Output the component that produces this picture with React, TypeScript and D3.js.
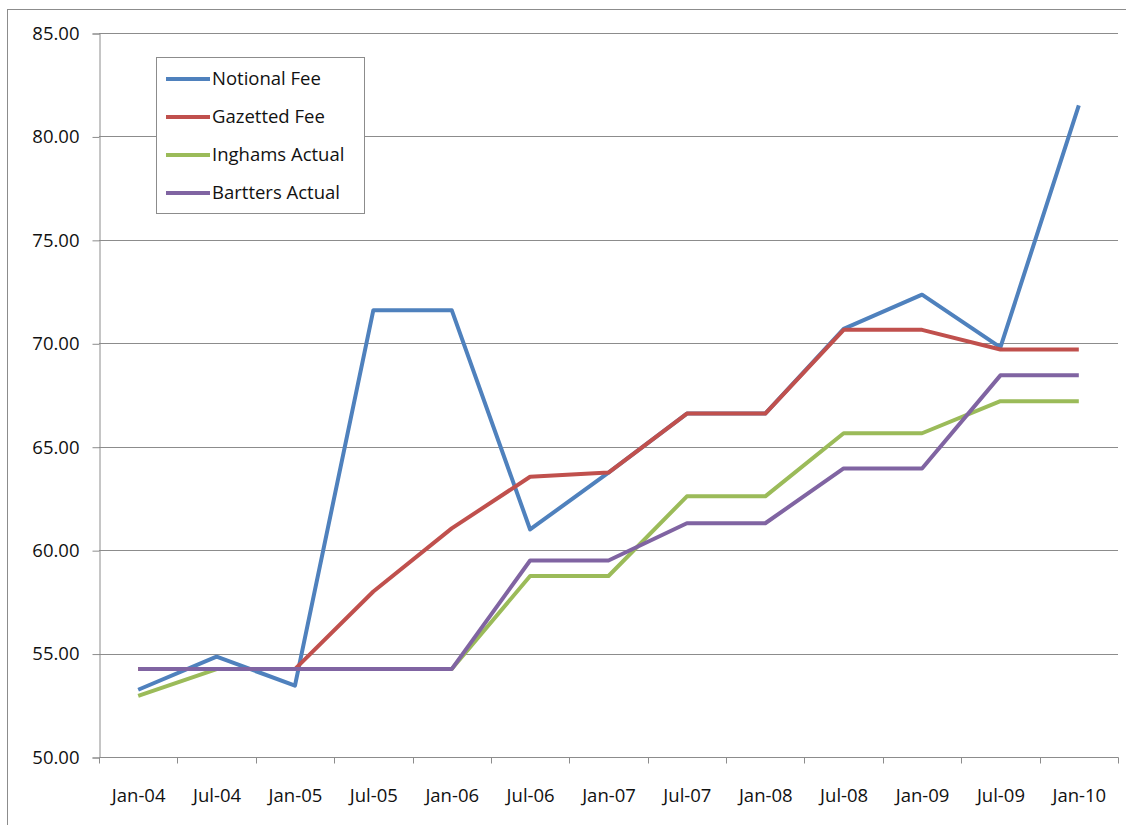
import React, { useEffect, useRef } from 'react';
import * as d3 from 'd3';

const categories = ['Jan-04', 'Jul-04', 'Jan-05', 'Jul-05', 'Jan-06', 'Jul-06', 'Jan-07', 'Jul-07', 'Jan-08', 'Jul-08', 'Jan-09', 'Jul-09', 'Jan-10'];

const notionalFee = [53.25, 54.85, 53.45, 71.6, 71.6, 61.0, 63.75, 66.6, 66.6, 70.7, 72.35, 69.8, 81.5];
const gazettedFee = [54.25, 54.25, 54.25, 58.0, 61.05, 63.55, 63.75, 66.6, 66.6, 70.65, 70.65, 69.7, 69.7];
const inghamsActual = [52.95, 54.25, 54.25, 54.25, 54.25, 58.75, 58.75, 62.6, 62.6, 65.65, 65.65, 67.2, 67.2];
const barttersActual = [54.25, 54.25, 54.25, 54.25, 54.25, 59.5, 59.5, 61.3, 61.3, 63.95, 63.95, 68.45, 68.45];

const yTicks = [50, 55, 60, 65, 70, 75, 80, 85];

const series = [
  { name: 'Notional Fee', values: notionalFee, color: '#4F81BD' },
  { name: 'Gazetted Fee', values: gazettedFee, color: '#C0504D' },
  { name: 'Inghams Actual', values: inghamsActual, color: '#9BBB59' },
  { name: 'Bartters Actual', values: barttersActual, color: '#8064A2' }
];

const FONT = '"Open Sans", sans-serif';
const FONT_SIZE = 18.5;

const App: React.FC = () => {
  const svgRef = useRef<SVGSVGElement>(null);

  useEffect(() => {
    if (!svgRef.current) return;

    const width = 1126;
    const height = 825;
    const left = 99;
    const right = 1118;
    const top = 33;
    const bottom = 757;

    d3.select(svgRef.current).selectAll('*').remove();
    const svg = d3.select(svgRef.current)
      .attr('width', width)
      .attr('height', height);

    svg.append('rect')
      .attr('width', width)
      .attr('height', height)
      .attr('fill', '#fff');

    // outer chart border
    svg.append('rect')
      .attr('x', 7.5)
      .attr('y', 9.5)
      .attr('width', width)
      .attr('height', height)
      .attr('fill', 'none')
      .attr('stroke', '#8c8c8c');

    const x = d3.scaleBand()
      .domain(categories)
      .range([left, right]);

    const y = d3.scaleLinear()
      .domain([50, 85])
      .range([bottom, top]);

    // gridlines
    svg.append('g')
      .selectAll('line')
      .data(yTicks.filter(t => t !== 50))
      .enter()
      .append('line')
      .attr('x1', left)
      .attr('x2', right)
      .attr('y1', d => Math.round(y(d)) + 0.5)
      .attr('y2', d => Math.round(y(d)) + 0.5)
      .attr('stroke', '#8c8c8c');

    // y axis
    const yAxis = svg.append('g')
      .attr('transform', `translate(${left + 0.5},0.5)`)
      .call(d3.axisLeft(y).tickValues(yTicks).tickFormat(d3.format('.2f')).tickSize(7).tickPadding(13));
    yAxis.select('.domain').attr('stroke', '#8c8c8c');
    yAxis.selectAll('.tick line').attr('stroke', '#8c8c8c');
    yAxis.selectAll('text')
      .attr('font-family', FONT)
      .attr('font-size', FONT_SIZE)
      .attr('fill', '#111');

    // x axis, ticks between categories
    const xAxis = svg.append('g')
      .attr('transform', `translate(0.5,${bottom + 0.5})`);
    xAxis.append('line')
      .attr('x1', left)
      .attr('x2', right)
      .attr('stroke', '#8c8c8c');
    xAxis.selectAll('line.tk')
      .data(d3.range(categories.length + 1))
      .enter()
      .append('line')
      .attr('class', 'tk')
      .attr('x1', i => Math.round(left + i * x.step()))
      .attr('x2', i => Math.round(left + i * x.step()))
      .attr('y1', 0)
      .attr('y2', 6)
      .attr('stroke', '#8c8c8c');
    xAxis.selectAll('text')
      .data(categories)
      .enter()
      .append('text')
      .attr('x', d => x(d)! + x.bandwidth() / 2)
      .attr('y', 44)
      .attr('text-anchor', 'middle')
      .attr('font-family', FONT)
      .attr('font-size', FONT_SIZE)
      .attr('fill', '#111')
      .text(d => d);

    // lines
    const line = d3.line<number>()
      .x((_, i) => x(categories[i])! + x.bandwidth() / 2)
      .y(d => y(d));

    svg.append('g')
      .selectAll('path')
      .data(series)
      .enter()
      .append('path')
      .attr('d', d => line(d.values))
      .attr('fill', 'none')
      .attr('stroke', d => d.color)
      .attr('stroke-width', 4)
      .attr('stroke-linejoin', 'round');

    // legend
    const legend = svg.append('g');
    legend.append('rect')
      .attr('x', 156.5)
      .attr('y', 57.5)
      .attr('width', 208)
      .attr('height', 156)
      .attr('fill', '#fff')
      .attr('stroke', '#8c8c8c');

    const item = legend.selectAll('g.item')
      .data(series)
      .enter()
      .append('g')
      .attr('class', 'item')
      .attr('transform', (_, i) => `translate(0,${79 + i * 38})`);
    item.append('line')
      .attr('x1', 166)
      .attr('x2', 210)
      .attr('stroke', d => d.color)
      .attr('stroke-width', 4);
    item.append('text')
      .attr('x', 212)
      .attr('dy', '0.35em')
      .attr('font-family', FONT)
      .attr('font-size', FONT_SIZE)
      .attr('fill', '#111')
      .text(d => d.name);
  }, []);

  return (
    <svg ref={svgRef} style={{ position: 'absolute', left: 0, top: 0, display: 'block' }}></svg>
  );
};

export default App;
